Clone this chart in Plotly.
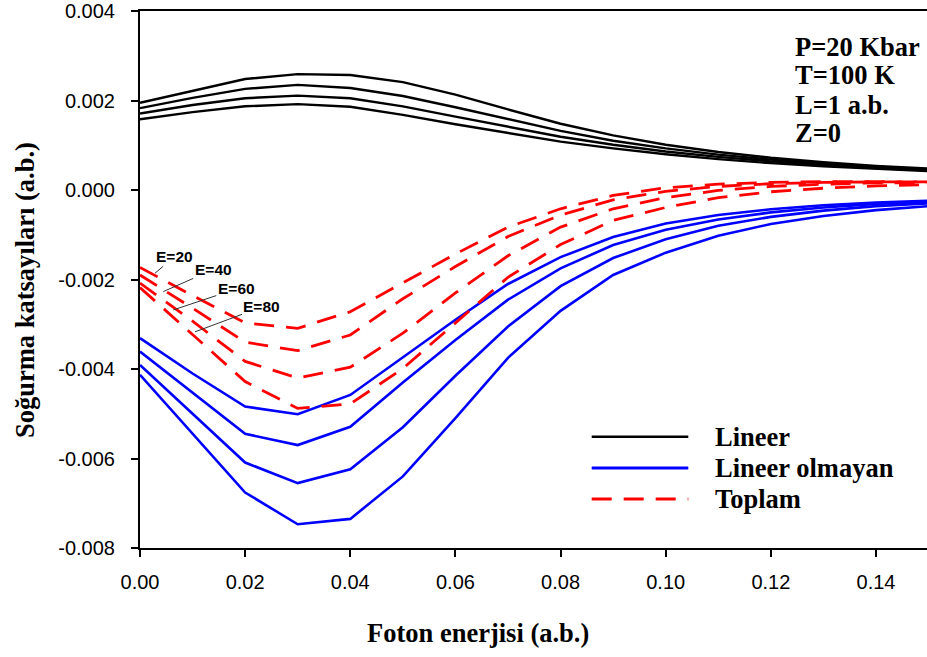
import plotly.graph_objects as go

# Photon energy (a.b.)
x_vals = [0.00, 0.01, 0.02, 0.03, 0.04, 0.05, 0.06, 0.07, 0.08, 0.09, 0.10, 0.11, 0.12, 0.13, 0.14, 0.15]

# Lineer (linear) absorption, E = 80, 60, 40, 20
lin_e80 = [0.00195, 0.00222, 0.00248, 0.00259, 0.00257, 0.00241, 0.00213, 0.00180, 0.00148, 0.00122, 0.00101, 0.00085, 0.00072, 0.00062, 0.00054, 0.00048]
lin_e60 = [0.00183, 0.00206, 0.00226, 0.00235, 0.00228, 0.00210, 0.00185, 0.00158, 0.00132, 0.00110, 0.00093, 0.00079, 0.00068, 0.00059, 0.00052, 0.00046]
lin_e40 = [0.00171, 0.00190, 0.00205, 0.00211, 0.00205, 0.00187, 0.00164, 0.00141, 0.00119, 0.00101, 0.00086, 0.00074, 0.00064, 0.00056, 0.00049, 0.00044]
lin_e20 = [0.00158, 0.00174, 0.00187, 0.00192, 0.00186, 0.00168, 0.00147, 0.00127, 0.00108, 0.00093, 0.00080, 0.00069, 0.00060, 0.00053, 0.00047, 0.00042]

# Lineer olmayan (nonlinear) absorption
nl_e20 = [-0.00331, -0.00410, -0.00484, -0.00501, -0.00458, -0.00375, -0.00290, -0.00210, -0.00150, -0.00105, -0.00075, -0.00056, -0.00043, -0.00034, -0.00028, -0.00024]
nl_e40 = [-0.00361, -0.00454, -0.00545, -0.00570, -0.00529, -0.00430, -0.00335, -0.00245, -0.00175, -0.00123, -0.00089, -0.00066, -0.00050, -0.00039, -0.00031, -0.00026]
nl_e60 = [-0.00391, -0.00499, -0.00609, -0.00655, -0.00624, -0.00530, -0.00415, -0.00305, -0.00215, -0.00152, -0.00110, -0.00080, -0.00060, -0.00046, -0.00036, -0.00030]
nl_e80 = [-0.00413, -0.00544, -0.00676, -0.00747, -0.00735, -0.00640, -0.00510, -0.00375, -0.00270, -0.00190, -0.00140, -0.00102, -0.00076, -0.00058, -0.00045, -0.00036]

# Toplam (total) absorption
tot_e20 = [-0.00173, -0.00236, -0.00297, -0.00309, -0.00272, -0.00207, -0.00143, -0.00083, -0.00042, -0.00012, 0.00005, 0.00013, 0.00017, 0.00019, 0.00019, 0.00018]
tot_e40 = [-0.00190, -0.00264, -0.00340, -0.00359, -0.00324, -0.00243, -0.00171, -0.00104, -0.00056, -0.00022, -0.00003, 0.00008, 0.00014, 0.00017, 0.00018, 0.00018]
tot_e60 = [-0.00208, -0.00293, -0.00383, -0.00420, -0.00396, -0.00320, -0.00230, -0.00147, -0.00083, -0.00042, -0.00017, -0.00001, 0.00008, 0.00013, 0.00016, 0.00016]
tot_e80 = [-0.00218, -0.00322, -0.00428, -0.00488, -0.00478, -0.00399, -0.00297, -0.00195, -0.00122, -0.00068, -0.00039, -0.00017, -0.00004, 0.00004, 0.00009, 0.00012]

x_ticks = [0.00, 0.02, 0.04, 0.06, 0.08, 0.10, 0.12, 0.14]
x_tick_text = ["0.00", "0.02", "0.04", "0.06", "0.08", "0.10", "0.12", "0.14"]
y_ticks = [-0.008, -0.006, -0.004, -0.002, 0.000, 0.002, 0.004]
y_tick_text = ["-0.008", "-0.006", "-0.004", "-0.002", "0.000", "0.002", "0.004"]

legend_names = ["Lineer", "Lineer olmayan", "Toplam"]
info_lines = ["P=20 Kbar", "T=100 K", "L=1 a.b.", "Z=0"]
e_labels = ["E=20", "E=40", "E=60", "E=80"]
# label anchor points on the Toplam curves (x, y) and text offsets (px)
e_points_x = [0.00285, 0.00443, 0.00633, 0.01046]
e_points_y = [-0.00186, -0.00227, -0.00268, -0.00317]
e_offsets = [(20, -17), (50, -22), (63, -21), (67, -25)]

fig = go.Figure()

for ys in [lin_e80, lin_e60, lin_e40, lin_e20]:
    fig.add_trace(go.Scatter(x=x_vals, y=ys, mode="lines", showlegend=False,
                             line=dict(color="black", width=2.4)))
for ys in [nl_e20, nl_e40, nl_e60, nl_e80]:
    fig.add_trace(go.Scatter(x=x_vals, y=ys, mode="lines", showlegend=False,
                             line=dict(color="#0000ff", width=2.6)))
for ys in [tot_e20, tot_e40, tot_e60, tot_e80]:
    fig.add_trace(go.Scatter(x=x_vals, y=ys, mode="lines", showlegend=False,
                             line=dict(color="#ff0000", width=2.8, dash="20px,12px")))

serif_bold = dict(family="Liberation Serif", size=26.5, color="black", weight="bold")

annotations = []
# axis titles
annotations.append(dict(text="Foton enerjisi (a.b.)", xref="paper", yref="paper",
                        x=(477.5 - 140) / 787, y=(548 - 633) / 537, xanchor="center", yanchor="middle",
                        showarrow=False, font=serif_bold))
annotations.append(dict(text="Soğurma katsayıları (a.b.)", xref="paper", yref="paper",
                        x=(25 - 140) / 787, y=(548 - 290) / 537, xanchor="center", yanchor="middle",
                        textangle=-90, showarrow=False, font=serif_bold))
# info text
info_y = [46.7, 75.5, 105, 133.5]
for t, py in zip(info_lines, info_y):
    annotations.append(dict(text=t, xref="paper", yref="paper", x=(793 - 140) / 787,
                            y=(548 - py) / 537, xanchor="left", yanchor="middle",
                            showarrow=False, font=dict(serif_bold, size=26.5)))
# legend
leg_y = [436.7, 468, 499]
leg_styles = [dict(color="black", width=2.6), dict(color="#0000ff", width=2.8),
              dict(color="#ff0000", width=3, dash="20px,12px")]
shapes = []
for name, py, st in zip(legend_names, leg_y, leg_styles):
    yp = (548 - py) / 537
    shapes.append(dict(type="line", xref="paper", yref="paper", x0=(591.7 - 140) / 787,
                       x1=(688.3 - 140) / 787, y0=yp, y1=yp, line=st))
    annotations.append(dict(text=name, xref="paper", yref="paper", x=(713 - 140) / 787,
                            y=yp, xanchor="left", yanchor="middle", showarrow=False,
                            font=serif_bold))
# E labels
for lab, px_, py_, (ax, ay) in zip(e_labels, e_points_x, e_points_y, e_offsets):
    annotations.append(dict(text=lab, x=px_, y=py_, xref="x", yref="y", ax=ax, ay=ay,
                            showarrow=True, arrowhead=0, arrowwidth=1, arrowcolor="#333333",
                            standoff=0,
                            font=dict(family="Liberation Sans", size=15.5, color="black", weight="bold")))

fig.update_layout(
    width=927, height=657,
    margin=dict(l=140, r=0, t=11, b=109),
    paper_bgcolor="white", plot_bgcolor="white",
    annotations=annotations, shapes=shapes,
    xaxis=dict(range=[0, 0.1497], tickvals=x_ticks, ticktext=x_tick_text,
               showgrid=False, zeroline=False, showline=True, linecolor="black", linewidth=2,
               mirror=True, ticks="outside", ticklen=7, tickwidth=1.5, tickcolor="black",
               tickfont=dict(family="Liberation Sans", size=20, color="black"),
               ticklabelstandoff=8),
    yaxis=dict(range=[-0.008, 0.004], tickvals=y_ticks, ticktext=y_tick_text,
               showgrid=False, zeroline=False, showline=True, linecolor="black", linewidth=2,
               mirror=False, ticks="outside", ticklen=7, tickwidth=1.5, tickcolor="black",
               tickfont=dict(family="Liberation Sans", size=20, color="black"),
               ticklabelstandoff=12),
)

fig.write_html("out.html", config={"displayModeBar": False},
               post_script="document.body.style.margin='0';document.body.style.overflow='hidden';")
